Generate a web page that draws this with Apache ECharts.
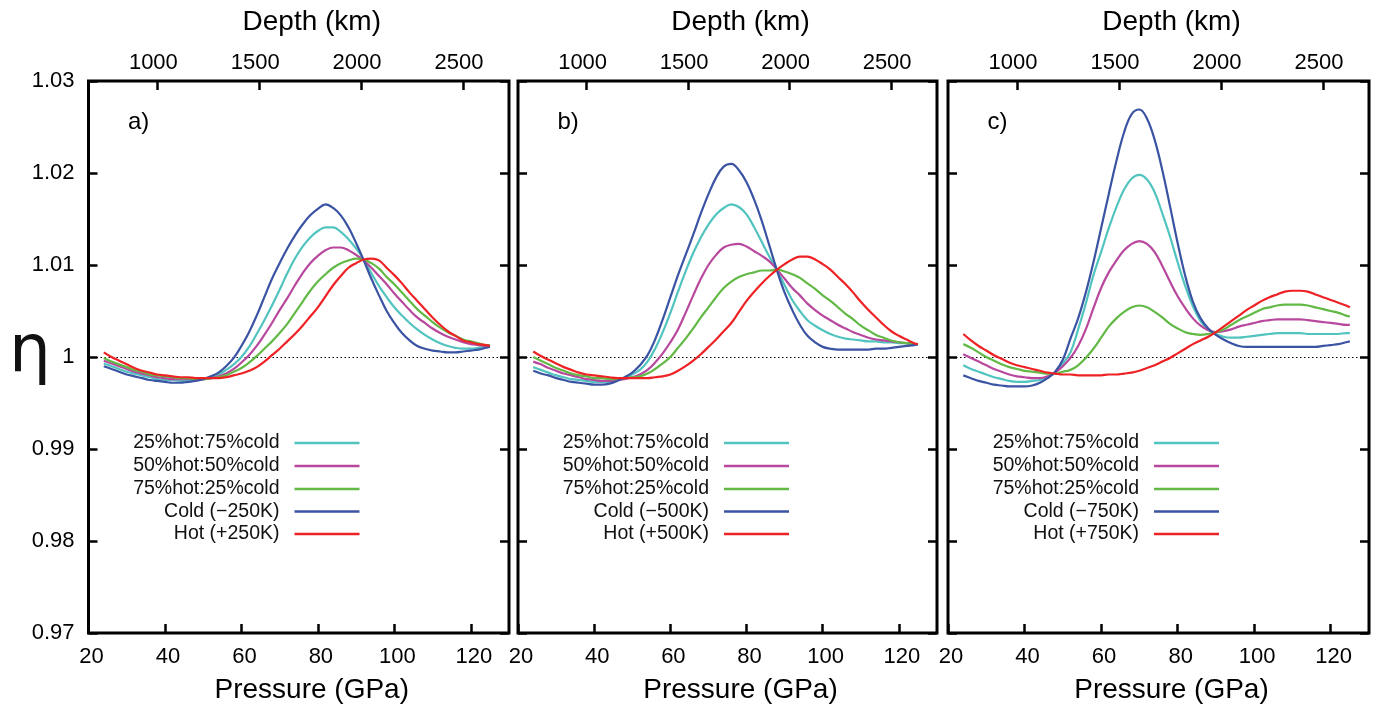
<!DOCTYPE html>
<html><head><meta charset="utf-8">
<script src="https://cdn.jsdelivr.net/npm/echarts@6/dist/echarts.min.js"></script>
<style>html,body{margin:0;padding:0;background:#fff}#chart{width:1377px;height:711px}</style>
</head><body><div id="chart"></div>
<script>
// Pressure sample points (GPa)
const pressure = [24,26,28,30,32,34,36,38,40,42,44,46,48,50,52,54,56,58,60,62,64,66,68,70,72,74,76,78,80,82,84,86,88,90,92,94,96,98,100,102,104,106,108,110,112,114,116,118,120,122,124,125];

// Panel a (±250 K)
const aMix25 = [0.9993,0.9990,0.9987,0.9984,0.9982,0.9980,0.9978,0.9976,0.9975,0.9975,0.9974,0.9974,0.9975,0.9976,0.9978,0.9981,0.9986,0.9992,1.0000,1.0011,1.0025,1.0040,1.0056,1.0073,1.0091,1.0107,1.0120,1.0130,1.0137,1.0141,1.0141,1.0136,1.0128,1.0118,1.0106,1.0091,1.0077,1.0065,1.0054,1.0045,1.0037,1.0030,1.0024,1.0019,1.0015,1.0012,1.0010,1.0009,1.0009,1.0010,1.0011,1.0011];
const aMix50 = [0.9996,0.9993,0.9990,0.9987,0.9984,0.9982,0.9980,0.9978,0.9977,0.9976,0.9976,0.9976,0.9976,0.9976,0.9977,0.9979,0.9982,0.9987,0.9994,1.0002,1.0012,1.0024,1.0037,1.0051,1.0064,1.0078,1.0091,1.0102,1.0110,1.0116,1.0119,1.0119,1.0116,1.0111,1.0105,1.0097,1.0088,1.0079,1.0069,1.0060,1.0051,1.0043,1.0037,1.0031,1.0026,1.0022,1.0019,1.0016,1.0014,1.0013,1.0012,1.0012];
const aMix75 = [0.9999,0.9995,0.9992,0.9989,0.9986,0.9984,0.9981,0.9980,0.9979,0.9978,0.9977,0.9977,0.9976,0.9976,0.9977,0.9978,0.9980,0.9984,0.9988,0.9994,1.0001,1.0009,1.0017,1.0026,1.0036,1.0048,1.0060,1.0072,1.0082,1.0090,1.0097,1.0102,1.0105,1.0107,1.0106,1.0102,1.0096,1.0087,1.0079,1.0070,1.0061,1.0052,1.0045,1.0038,1.0032,1.0027,1.0023,1.0019,1.0017,1.0015,1.0013,1.0013];
const aCold  = [0.9990,0.9987,0.9984,0.9981,0.9979,0.9977,0.9975,0.9974,0.9973,0.9972,0.9972,0.9973,0.9974,0.9976,0.9979,0.9983,0.9990,0.9999,1.0012,1.0027,1.0045,1.0065,1.0085,1.0102,1.0118,1.0132,1.0144,1.0154,1.0161,1.0166,1.0162,1.0154,1.0141,1.0124,1.0105,1.0085,1.0067,1.0050,1.0037,1.0026,1.0018,1.0012,1.0009,1.0007,1.0006,1.0005,1.0005,1.0006,1.0007,1.0008,1.0010,1.0011];
const aHot   = [1.0005,1.0000,0.9996,0.9992,0.9988,0.9985,0.9983,0.9981,0.9980,0.9979,0.9978,0.9978,0.9977,0.9977,0.9977,0.9977,0.9978,0.9980,0.9982,0.9985,0.9989,0.9995,1.0002,1.0009,1.0017,1.0025,1.0034,1.0044,1.0054,1.0066,1.0078,1.0088,1.0097,1.0102,1.0106,1.0107,1.0105,1.0097,1.0089,1.0080,1.0070,1.0061,1.0052,1.0043,1.0035,1.0028,1.0023,1.0018,1.0016,1.0014,1.0013,1.0012];

// Panel b (±500 K)
const bMix25 = [0.9989,0.9986,0.9983,0.9980,0.9978,0.9976,0.9975,0.9974,0.9973,0.9973,0.9973,0.9975,0.9977,0.9981,0.9986,0.9995,1.0009,1.0027,1.0048,1.0071,1.0093,1.0113,1.0130,1.0144,1.0155,1.0162,1.0166,1.0163,1.0155,1.0141,1.0125,1.0109,1.0094,1.0078,1.0062,1.0050,1.0040,1.0034,1.0029,1.0025,1.0022,1.0020,1.0019,1.0018,1.0017,1.0017,1.0016,1.0016,1.0015,1.0015,1.0014,1.0014];
const bMix50 = [0.9995,0.9992,0.9988,0.9985,0.9982,0.9980,0.9978,0.9976,0.9975,0.9974,0.9974,0.9975,0.9976,0.9978,0.9981,0.9986,0.9994,1.0004,1.0016,1.0030,1.0048,1.0067,1.0085,1.0100,1.0111,1.0119,1.0122,1.0123,1.0120,1.0115,1.0110,1.0104,1.0095,1.0085,1.0075,1.0067,1.0058,1.0051,1.0045,1.0040,1.0035,1.0031,1.0027,1.0024,1.0021,1.0019,1.0018,1.0017,1.0016,1.0015,1.0014,1.0014];
const bMix75 = [1.0000,0.9996,0.9992,0.9988,0.9985,0.9982,0.9980,0.9979,0.9977,0.9977,0.9976,0.9976,0.9977,0.9978,0.9979,0.9982,0.9987,0.9993,1.0000,1.0010,1.0020,1.0031,1.0043,1.0054,1.0065,1.0075,1.0082,1.0087,1.0090,1.0092,1.0094,1.0094,1.0095,1.0093,1.0090,1.0086,1.0080,1.0074,1.0067,1.0061,1.0054,1.0047,1.0041,1.0034,1.0029,1.0024,1.0021,1.0018,1.0016,1.0015,1.0014,1.0014];
const bCold  = [0.9985,0.9982,0.9980,0.9977,0.9975,0.9973,0.9972,0.9971,0.9970,0.9970,0.9971,0.9974,0.9978,0.9983,0.9991,1.0002,1.0019,1.0041,1.0065,1.0089,1.0111,1.0133,1.0156,1.0177,1.0195,1.0207,1.0210,1.0203,1.0190,1.0171,1.0148,1.0121,1.0094,1.0070,1.0051,1.0035,1.0023,1.0016,1.0011,1.0009,1.0008,1.0008,1.0008,1.0008,1.0008,1.0009,1.0009,1.0010,1.0011,1.0012,1.0013,1.0014];
const bHot   = [1.0006,1.0001,0.9997,0.9993,0.9989,0.9986,0.9983,0.9981,0.9980,0.9979,0.9978,0.9977,0.9977,0.9977,0.9977,0.9977,0.9978,0.9979,0.9981,0.9985,0.9990,0.9996,1.0003,1.0011,1.0019,1.0028,1.0037,1.0049,1.0061,1.0071,1.0080,1.0088,1.0095,1.0101,1.0106,1.0109,1.0109,1.0106,1.0101,1.0095,1.0087,1.0079,1.0070,1.0060,1.0051,1.0043,1.0035,1.0028,1.0023,1.0019,1.0015,1.0014];

// Panel c (±750 K)
const cMix25 = [0.9991,0.9987,0.9984,0.9981,0.9978,0.9976,0.9974,0.9973,0.9973,0.9974,0.9975,0.9978,0.9983,0.9993,1.0005,1.0030,1.0058,1.0089,1.0114,1.0140,1.0163,1.0182,1.0194,1.0198,1.0193,1.0179,1.0156,1.0131,1.0103,1.0077,1.0055,1.0039,1.0030,1.0025,1.0022,1.0021,1.0021,1.0022,1.0023,1.0024,1.0025,1.0026,1.0026,1.0026,1.0026,1.0025,1.0025,1.0025,1.0025,1.0025,1.0026,1.0026];
const cMix50 = [1.0003,0.9999,0.9995,0.9991,0.9987,0.9984,0.9981,0.9979,0.9978,0.9977,0.9977,0.9979,0.9983,0.9990,0.9999,1.0012,1.0030,1.0053,1.0075,1.0092,1.0105,1.0116,1.0123,1.0126,1.0123,1.0114,1.0099,1.0082,1.0066,1.0053,1.0042,1.0034,1.0029,1.0027,1.0028,1.0030,1.0033,1.0035,1.0037,1.0039,1.0040,1.0041,1.0041,1.0041,1.0041,1.0040,1.0039,1.0038,1.0037,1.0036,1.0035,1.0035];
const cMix75 = [1.0014,1.0010,1.0005,1.0000,0.9996,0.9992,0.9989,0.9987,0.9985,0.9984,0.9983,0.9982,0.9982,0.9984,0.9986,0.9991,0.9999,1.0009,1.0021,1.0033,1.0042,1.0049,1.0054,1.0056,1.0054,1.0049,1.0043,1.0036,1.0031,1.0027,1.0025,1.0024,1.0025,1.0027,1.0030,1.0035,1.0040,1.0044,1.0048,1.0052,1.0054,1.0056,1.0057,1.0057,1.0057,1.0056,1.0054,1.0052,1.0050,1.0048,1.0045,1.0044];
const cCold  = [0.9980,0.9977,0.9974,0.9972,0.9970,0.9969,0.9968,0.9968,0.9968,0.9969,0.9972,0.9977,0.9984,0.9997,1.0020,1.0042,1.0070,1.0103,1.0140,1.0177,1.0213,1.0244,1.0264,1.0269,1.0259,1.0236,1.0203,1.0164,1.0124,1.0088,1.0060,1.0042,1.0031,1.0024,1.0019,1.0015,1.0012,1.0011,1.0011,1.0011,1.0011,1.0011,1.0011,1.0011,1.0011,1.0011,1.0011,1.0012,1.0013,1.0014,1.0016,1.0017];
const cHot   = [1.0025,1.0018,1.0012,1.0007,1.0002,0.9998,0.9994,0.9991,0.9989,0.9987,0.9985,0.9983,0.9982,0.9981,0.9981,0.9980,0.9980,0.9980,0.9980,0.9981,0.9981,0.9982,0.9983,0.9985,0.9988,0.9991,0.9995,0.9999,1.0004,1.0009,1.0014,1.0018,1.0022,1.0027,1.0033,1.0039,1.0045,1.0051,1.0056,1.0061,1.0065,1.0068,1.0071,1.0072,1.0072,1.0071,1.0068,1.0065,1.0062,1.0059,1.0056,1.0054];

// Axis ticks / labels
const yTicks = [0.97,0.98,0.99,1.00,1.01,1.02,1.03];
const pressureRange = [20, 130];
const depthRange = [662, 2726];
const panelTags = ['a)','b)','c)'];
const panelLegends = [
  ['25%hot:75%cold','50%hot:50%cold','75%hot:25%cold','Cold (\u2212250K)','Hot (+250K)'],
  ['25%hot:75%cold','50%hot:50%cold','75%hot:25%cold','Cold (\u2212500K)','Hot (+500K)'],
  ['25%hot:75%cold','50%hot:50%cold','75%hot:25%cold','Cold (\u2212750K)','Hot (+750K)']
];
const panelData = [
  [aMix25,aMix50,aMix75,aCold,aHot],
  [bMix25,bMix50,bMix75,bCold,bHot],
  [cMix25,cMix50,cMix75,cCold,cHot]
];
const colors = ['#52c4bf','#b8489d','#62b946','#3a53a3','#ee2225'];

const FONT = 'Liberation Sans, Arial, Helvetica, sans-serif';
const grids = [
  {left:88.5, top:81, width:420.5, height:552},
  {left:518, top:81, width:419, height:552},
  {left:948, top:81, width:421, height:552}
];

const option = {
  animation:false,
  backgroundColor:'#fff',
  textStyle:{fontFamily:FONT, color:'#000'},
  grid: grids.map(g => ({left:g.left, top:g.top, width:g.width, height:g.height, show:true, borderColor:'#000', borderWidth:3, backgroundColor:'transparent', containLabel:false})),
  xAxis:[], yAxis:[], series:[], graphic:[]
};

const tickStyle = {inside:true, length:9, lineStyle:{color:'#000', width:2.5}};

grids.forEach((g, i) => {
  option.xAxis.push({
    gridIndex:i, type:'value', position:'bottom', min:pressureRange[0], max:pressureRange[1], interval:20,
    axisLine:{show:false}, axisTick:tickStyle, splitLine:{show:false},
    axisLabel:{fontSize:22, color:'#000', margin:13, showMaxLabel:false, fontFamily:FONT, padding:[0,0,0,6]},
    name:'Pressure (GPa)', nameLocation:'middle', nameGap:43,
    nameTextStyle:{fontSize:28, color:'#000', padding:[0,0,0,26], fontFamily:FONT}
  });
  option.xAxis.push({
    gridIndex:i, type:'value', position:'top', min:depthRange[0], max:depthRange[1], splitNumber:5,
    axisLine:{show:false}, axisTick:tickStyle, splitLine:{show:false},
    axisLabel:{fontSize:22, color:'#000', margin:7, showMinLabel:false, showMaxLabel:false, fontFamily:FONT,
      padding:[0,8,0,0], formatter:v => String(Math.round(v))},
    name:'Depth (km)', nameLocation:'middle', nameGap:45,
    nameTextStyle:{fontSize:28, color:'#000', padding:[0,0,0,26], fontFamily:FONT}
  });
  option.yAxis.push({
    gridIndex:i, type:'value', position:'left', min:yTicks[0], max:yTicks[yTicks.length-1], interval:0.01,
    axisLine:{show:false}, axisTick:tickStyle, splitLine:{show:false},
    axisLabel:{show:i===0, fontSize:22, color:'#000', margin:14, fontFamily:FONT,
      formatter:v => String(Number(v.toFixed(2)))}
  });
  option.yAxis.push({
    gridIndex:i, type:'value', position:'right', min:yTicks[0], max:yTicks[yTicks.length-1], interval:0.01,
    axisLine:{show:false}, axisTick:tickStyle, splitLine:{show:false}, axisLabel:{show:false}
  });
  panelData[i].forEach((arr, k) => {
    const s = {
      type:'line', name:panelLegends[i][k], xAxisIndex:2*i, yAxisIndex:2*i,
      data: pressure.map((p, j) => [p, arr[j]]),
      showSymbol:false, smooth:0.4, lineStyle:{color:colors[k], width:2.2}, itemStyle:{color:colors[k]},
      z:3+k
    };
    if (k === 0) {
      s.markLine = {silent:true, symbol:'none', label:{show:false}, z:1,
        lineStyle:{color:'#000', type:[1.5,2.5], width:1}, data:[{yAxis:1}]};
    }
    option.series.push(s);
  });
  // panel tag
  option.graphic.push({type:'text', x:g.left+39.5, y:122, style:{text:panelTags[i], fontSize:24, fontFamily:FONT, fill:'#000', textAlign:'left', textVerticalAlign:'middle'}});
  // legend
  const rows = [443,466,489,511.5,534];
  panelLegends[i].forEach((name, k) => {
    option.graphic.push({type:'text', x:g.left+191, y:rows[k], style:{text:name, fontSize:19.5, fontFamily:FONT, fill:'#111', textAlign:'right', textVerticalAlign:'middle'}});
    option.graphic.push({type:'line', shape:{x1:g.left+206, y1:rows[k], x2:g.left+271, y2:rows[k]}, style:{stroke:colors[k], lineWidth:2.5}});
  });
});

option.graphic.push({type:'text', x:9, y:354, style:{text:'\u03B7', fontSize:66, fontFamily:'DejaVu Sans', fill:'#111', textAlign:'left', textVerticalAlign:'middle'}});

const chart = echarts.init(document.getElementById('chart'), null, {renderer:'canvas'});
chart.setOption(option);
</script>
</body></html>
